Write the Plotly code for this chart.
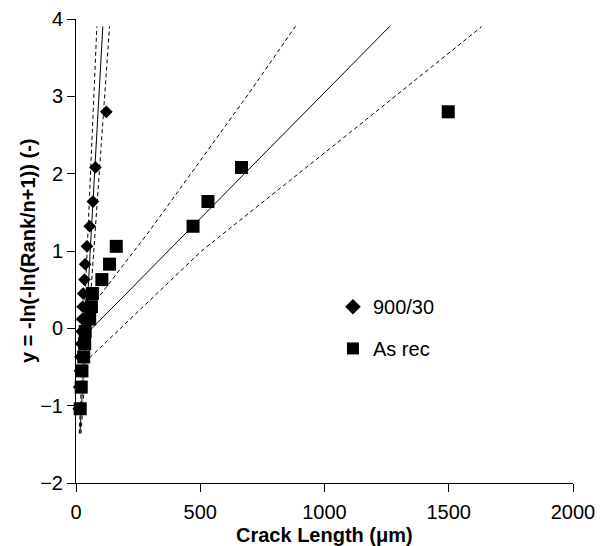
import plotly.graph_objects as go

# Weibull plot values
rank_y = [-1.04, -0.76, -0.55, -0.37, -0.20, -0.04, 0.12, 0.28, 0.45, 0.63,
          0.83, 1.06, 1.32, 1.64, 2.08, 2.80]
ht_x = [11, 13, 16, 18, 21, 23, 25, 27, 29, 34, 37, 44, 55, 68, 78, 122]          # 900/30
asrec_x = [17, 21, 24, 31, 35, 37, 55, 62, 66, 104, 135, 162, 471, 531, 666, 1498]  # As rec

# fit lines (900/30)
ht_fit_x = [16, 108]
ht_fit_y = [-1.36, 3.905]
ht_up_x = [13, 84]
ht_up_y = [-1.36, 3.905]
ht_lo_x = [20, 135]
ht_lo_y = [-1.36, 3.905]

# fit lines (As rec)
ar_fit_x = [0, 1264]
ar_fit_y = [-0.21, 3.91]
ar_up_x = [0, 88, 296, 696, 883]
ar_up_y = [0.10, 0.39, 1.26, 3.04, 3.905]
ar_lo_x = [55, 505, 1102, 1632]
ar_lo_y = [-0.38, 1.0, 2.53, 3.90]

x_ticks = [0, 500, 1000, 1500, 2000]
y_ticks = [-2, -1, 0, 1, 2, 3, 4]

FONT = "Liberation Sans, Arial, sans-serif"

fig = go.Figure()

def add_line(x, y, dash):
    fig.add_trace(go.Scatter(x=x, y=y, mode="lines", showlegend=False,
                             line=dict(color="black", width=1, dash=dash),
                             hoverinfo="skip"))

add_line(ht_up_x, ht_up_y, "4px,3px")
add_line(ht_lo_x, ht_lo_y, "4px,3px")
add_line(ht_fit_x, ht_fit_y, "solid")
add_line(ar_up_x, ar_up_y, "4px,3px")
add_line(ar_lo_x, ar_lo_y, "4px,3px")
add_line(ar_fit_x, ar_fit_y, "solid")

fig.add_trace(go.Scatter(x=ht_x, y=rank_y, mode="markers", name="900/30",
                         marker=dict(symbol="diamond", size=9.8, color="black",
                                     line=dict(width=0)),
                         cliponaxis=False, legend="legend"))
fig.add_trace(go.Scatter(x=asrec_x, y=rank_y, mode="markers", name="As rec",
                         marker=dict(symbol="square", size=13, color="black",
                                     line=dict(width=0)),
                         cliponaxis=False, legend="legend2"))

legend_common = dict(font=dict(family=FONT, size=20, color="black"),
                     bgcolor="rgba(0,0,0,0)", xanchor="left", yanchor="middle",
                     itemsizing="constant")

fig.update_layout(
    width=606, height=546,
    margin=dict(l=68, r=41, t=11, b=71),
    paper_bgcolor="white", plot_bgcolor="white",
    font=dict(family=FONT, size=20, color="black"),
    legend=dict(x=0.517, y=0.380, **legend_common),
    legend2=dict(x=0.517, y=0.290, **legend_common),
    xaxis=dict(range=[0, 2000], tickvals=x_ticks, showgrid=False, zeroline=False,
               showline=True, linecolor="black", linewidth=1, automargin=False,
               ticks="outside", ticklen=8, tickcolor="black",
               ticklabeloverflow="allow", ticklabelstandoff=3,
               tickfont=dict(family=FONT, size=20)),
    yaxis=dict(range=[-2, 4], tickvals=y_ticks, showgrid=False, zeroline=False,
               showline=True, linecolor="black", linewidth=1, automargin=False,
               ticks="outside", ticklen=8, tickcolor="black",
               ticklabeloverflow="allow",
               tickfont=dict(family=FONT, size=20)),
    annotations=[
        dict(text="<b>Crack Length (μm)</b>", xref="paper", yref="paper",
             x=0.501, y=-0.112, xanchor="center", yanchor="middle",
             showarrow=False, font=dict(family=FONT, size=20)),
        dict(text="<b>y = -ln(-ln(Rank/n+1)) (-)</b>", xref="paper", yref="paper",
             x=-0.0966, y=0.5, xanchor="center", yanchor="middle", textangle=-90,
             showarrow=False, font=dict(family=FONT, size=20)),
    ],
)

fig.write_html("out.html")
